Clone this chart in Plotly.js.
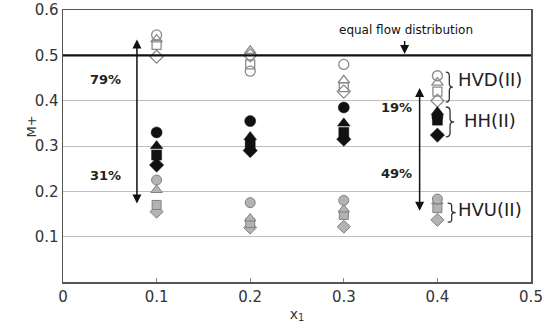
<!DOCTYPE html>
<html><head><meta charset="utf-8">
<script src="https://cdn.plot.ly/plotly-3.0.1.min.js"></script>
<style>html,body{margin:0;padding:0;background:#fff}#chart{width:544px;height:330px}</style>
</head><body><div id="chart"></div>
<script>
// x1 values
const xVals = [0.1, 0.2, 0.3, 0.4];
// HVD(II) series (open markers)
const hvdCircle   = [0.545, 0.465, 0.48, 0.455];
const hvdTriangle = [0.535, 0.51, 0.445, 0.44];
const hvdSquare   = [0.523, 0.48, 0.43, 0.42];
const hvdDiamond  = [0.497, 0.50, 0.42, 0.40];
// HH(II) series (black markers)
const hhCircle   = [0.33, 0.355, 0.385, 0.365];
const hhTriangle = [0.30, 0.32, 0.35, 0.375];
const hhSquare   = [0.28, 0.305, 0.33, 0.357];
const hhDiamond  = [0.258, 0.29, 0.315, 0.324];
// HVU(II) series (gray markers)
const hvuCircle   = [0.225, 0.175, 0.18, 0.183];
const hvuTriangle = [0.203, 0.14, 0.16, 0.178];
const hvuSquare   = [0.17, 0.13, 0.148, 0.163];
const hvuDiamond  = [0.155, 0.12, 0.122, 0.137];

const xTicks = [0, 0.1, 0.2, 0.3, 0.4, 0.5];
const yTicks = [0.1, 0.2, 0.3, 0.4, 0.5, 0.6];

const FONT = 'DejaVu Sans, Arial, sans-serif';
const traces = [];
function add(y, symbol, lineColor, size, fill, lw) {
  traces.push({x: xVals, y: y, type: 'scatter', mode: 'markers', showlegend: false,
    hoverinfo: 'skip',
    marker: {symbol: symbol, size: size, color: fill, line: {color: lineColor, width: lw}}});
}
const openC = '#8a8a8a';
add(hvdCircle, 'circle-open', openC, 10, openC, 1.3);
add(hvdTriangle, 'triangle-up-open', openC, 10, openC, 1.3);
add(hvdSquare, 'square-open', openC, 9, openC, 1.3);
add(hvdDiamond, 'diamond-open', openC, 10, openC, 1.3);
const grayF = '#b3b3b3', grayL = '#808080';
add(hvuDiamond, 'diamond', grayL, 10, grayF, 1);
add(hvuSquare, 'square', grayL, 9, grayF, 1);
add(hvuTriangle, 'triangle-up', grayL, 10, grayF, 1);
add(hvuCircle, 'circle', grayL, 10, grayF, 1);
const blk = '#111';
add(hhDiamond, 'diamond', blk, 11, blk, 0.5);
add(hhSquare, 'square', blk, 10, blk, 0.5);
add(hhTriangle, 'triangle-up', blk, 11, blk, 0.5);
add(hhCircle, 'circle', blk, 11, blk, 0.5);

function brace(x0, w, yt, yb) {
  const xm = x0 + w / 2, x1 = x0 + w, ym = (yt + yb) / 2, r = (yt - yb) * 0.12;
  return `M ${x0},${yt} Q ${xm},${yt} ${xm},${yt - r} L ${xm},${ym + r} Q ${xm},${ym} ${x1},${ym} ` +
         `Q ${xm},${ym} ${xm},${ym - r} L ${xm},${yb + r} Q ${xm},${yb} ${x0},${yb}`;
}

const shapes = [
  {type: 'line', xref: 'x', yref: 'y', x0: 0, x1: 0.5, y0: 0.5, y1: 0.5, line: {color: '#111', width: 2.2}},
  {type: 'path', xref: 'x', yref: 'y', path: brace(0.409, 0.0075, 0.463, 0.397), line: {color: '#333', width: 1.3}},
  {type: 'path', xref: 'x', yref: 'y', path: brace(0.409, 0.009, 0.386, 0.320), line: {color: '#333', width: 1.3}},
  {type: 'path', xref: 'x', yref: 'y', path: brace(0.411, 0.0085, 0.174, 0.132), line: {color: '#333', width: 1.3}}
];

const txt = (x, y, t, size, opts) => Object.assign({x: x, y: y, xref: 'x', yref: 'y', text: t, showarrow: false,
  font: {family: FONT, size: size, color: '#222'}}, opts || {});
const arrow = (x, y, ax, ay, side) => ({x: x, y: y, ax: ax, ay: ay, xref: 'x', yref: 'y', axref: 'x', ayref: 'y',
  text: '', showarrow: true, arrowhead: 2, arrowsize: 1.2, arrowwidth: 1.5, arrowcolor: '#111', arrowside: side || 'end',
  standoff: 0, startstandoff: 0});

const annotations = [
  txt(0.3665, 0.556, 'equal flow distribution', 12, {font: {family: FONT, size: 12, color: '#111'}}),
  arrow(0.365, 0.503, 0.365, 0.535),
  arrow(0.079, 0.535, 0.079, 0.170, 'end+start'),
  arrow(0.381, 0.428, 0.381, 0.154, 'end+start'),
  txt(0.045, 0.446, '<b>79%</b>', 13),
  txt(0.045, 0.236, '<b>31%</b>', 13),
  txt(0.356, 0.384, '<b>19%</b>', 13),
  txt(0.356, 0.240, '<b>49%</b>', 13),
  txt(0.42, 0.446, 'HVD(II)', 18, {xanchor: 'left'}),
  txt(0.4263, 0.357, 'HH(II)', 18, {xanchor: 'left'}),
  txt(0.42, 0.159, 'HVU(II)', 18, {xanchor: 'left'}),
  {x: -0.0876, y: 0.342, xref: 'paper', yref: 'y', text: 'M+', showarrow: false, textangle: -90,
   font: {family: FONT, size: 13, color: '#333'}},
  {x: -0.049, y: -0.007, xref: 'paper', yref: 'y', text: '0', showarrow: false,
   font: {family: FONT, size: 15, color: '#333'}}
];

const layout = {
  width: 544, height: 330,
  margin: {l: 63, r: 13, t: 10, b: 48},
  paper_bgcolor: '#fff', plot_bgcolor: '#fff',
  font: {family: FONT, size: 15, color: '#333'},
  xaxis: {range: [0, 0.5], tickvals: xTicks, ticktext: xTicks.map(String), showgrid: false, zeroline: false,
    showline: true, mirror: true, linecolor: '#555', linewidth: 1.5, ticks: 'inside', ticklen: 4,
    tickcolor: '#888', tickfont: {family: FONT, size: 15, color: '#333'},
    title: {text: 'x<sub>1</sub>', font: {family: FONT, size: 14, color: '#333'}, standoff: 4}},
  yaxis: {range: [0, 0.6], tickvals: yTicks, ticktext: yTicks.map(v => v.toFixed(1)), showgrid: true,
    gridcolor: '#bdbdbd', gridwidth: 1, zeroline: false, showline: true, mirror: true, linecolor: '#555',
    linewidth: 1.5, ticks: '', tickfont: {family: FONT, size: 15, color: '#333'}},
  shapes: shapes, annotations: annotations
};
Plotly.newPlot('chart', traces, layout, {displayModeBar: false, staticPlot: true});
</script></body></html>
